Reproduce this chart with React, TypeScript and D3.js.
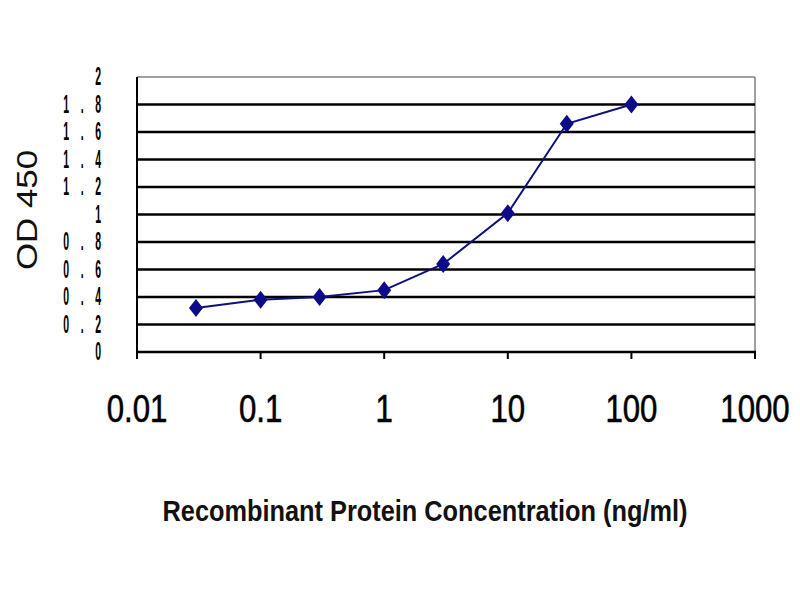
import React, { useEffect, useRef } from 'react';
import * as d3 from 'd3';

// concentrations (ng/ml) and measured OD 450
const concentrations = [0.03, 0.1, 0.3, 1, 3, 10, 30, 100];
const odValues = [0.32, 0.38, 0.4, 0.45, 0.64, 1.01, 1.66, 1.8];

const xTicks = [0.01, 0.1, 1, 10, 100, 1000];
const xTickLabels = ['0.01', '0.1', '1', '10', '100', '1000'];
const yTicks = [0, 0.2, 0.4, 0.6, 0.8, 1, 1.2, 1.4, 1.6, 1.8, 2];
const yTickLabels = ['0', '0.2', '0.4', '0.6', '0.8', '1', '1.2', '1.4', '1.6', '1.8', '2'];

const App = () => {
  const svgRef = useRef<SVGSVGElement | null>(null);

  useEffect(() => {
    if (!svgRef.current) return;
    const width = 800;
    const height = 600;
    const svg = d3.select(svgRef.current);
    svg.selectAll('*').remove();

    const left = 137, right = 755, top = 77, bottom = 352;
    const font = 'Liberation Sans, Arial, sans-serif';

    const x = d3.scaleLog().domain([0.01, 1000]).range([left, right]);
    const y = d3.scaleLinear().domain([0, 2]).range([bottom, top]);

    svg.append('rect').attr('width', width).attr('height', height).attr('fill', '#fff');

    // plot border (gray) on right
    svg.append('line')
      .attr('x1', right).attr('x2', right).attr('y1', top).attr('y2', bottom)
      .attr('stroke', '#808080').attr('stroke-width', 1.5);

    // gridlines
    yTicks.forEach((t, i) => {
      if (t === 0) return;
      const isTop = i === yTicks.length - 1;
      svg.append('line')
        .attr('x1', left).attr('x2', right)
        .attr('y1', y(t)).attr('y2', y(t))
        .attr('stroke', isTop ? '#808080' : '#000')
        .attr('stroke-width', isTop ? 1.5 : 2.5);
    });

    // axes
    svg.append('line')
      .attr('x1', left).attr('x2', left).attr('y1', top).attr('y2', bottom)
      .attr('stroke', '#000').attr('stroke-width', 2);
    svg.append('line')
      .attr('x1', left).attr('x2', right + 1).attr('y1', bottom).attr('y2', bottom)
      .attr('stroke', '#000').attr('stroke-width', 2.5);

    // x ticks and labels
    xTicks.forEach((t, i) => {
      svg.append('line')
        .attr('x1', x(t)).attr('x2', x(t)).attr('y1', bottom).attr('y2', bottom + 7)
        .attr('stroke', '#000').attr('stroke-width', 2);
      svg.append('text')
        .attr('transform', `translate(${x(t)},422) scale(0.8,1)`)
        .attr('text-anchor', 'middle')
        .attr('font-family', font)
        .attr('font-size', 39)
        .attr('fill', '#000')
        .attr('stroke', '#000')
        .attr('stroke-width', 0.6)
        .text(xTickLabels[i]);
    });

    // y tick labels (tall, narrow)
    yTicks.forEach((t, i) => {
      const label = yTickLabels[i];
      const g = svg.append('g')
        .attr('transform', `translate(101,${y(t) + 8}) scale(0.42,1)`);
      const txt = g.append('text')
        .attr('text-anchor', 'end')
        .attr('font-family', font)
        .attr('font-size', 25)
        .attr('font-weight', 'bold')
        .attr('fill', '#000')
        .text(label);
      if (label.length > 1) {
        txt.attr('textLength', 90).attr('lengthAdjust', 'spacing');
      }
    });

    // axis titles
    svg.append('text')
      .attr('transform', 'translate(37,210) rotate(-90)')
      .attr('text-anchor', 'middle')
      .attr('font-family', font)
      .attr('font-size', 29)
      .attr('textLength', 120)
      .attr('lengthAdjust', 'spacingAndGlyphs')
      .attr('fill', '#111')
      .text('OD 450');

    svg.append('text')
      .attr('x', 425).attr('y', 521)
      .attr('text-anchor', 'middle')
      .attr('font-family', font)
      .attr('font-size', 29)
      .attr('font-weight', 'bold')
      .attr('textLength', 525)
      .attr('lengthAdjust', 'spacingAndGlyphs')
      .attr('fill', '#111')
      .text('Recombinant Protein Concentration (ng/ml)');

    // data line
    const pts = concentrations.map((c, i) => [x(c), y(odValues[i])] as [number, number]);
    svg.append('path')
      .attr('d', d3.line()(pts))
      .attr('fill', 'none')
      .attr('stroke', '#10107a')
      .attr('stroke-width', 2);

    // diamond markers
    svg.selectAll('path.marker')
      .data(pts)
      .enter().append('path')
      .attr('class', 'marker')
      .attr('d', d => `M${d[0]},${d[1] - 9}L${d[0] + 7},${d[1]}L${d[0]},${d[1] + 9}L${d[0] - 7},${d[1]}Z`)
      .attr('fill', '#0c0c8a');
  }, []);

  return (
    <svg ref={svgRef} width={800} height={600}
      style={{ position: 'absolute', left: 0, top: 0 }} />
  );
};

export default App;
